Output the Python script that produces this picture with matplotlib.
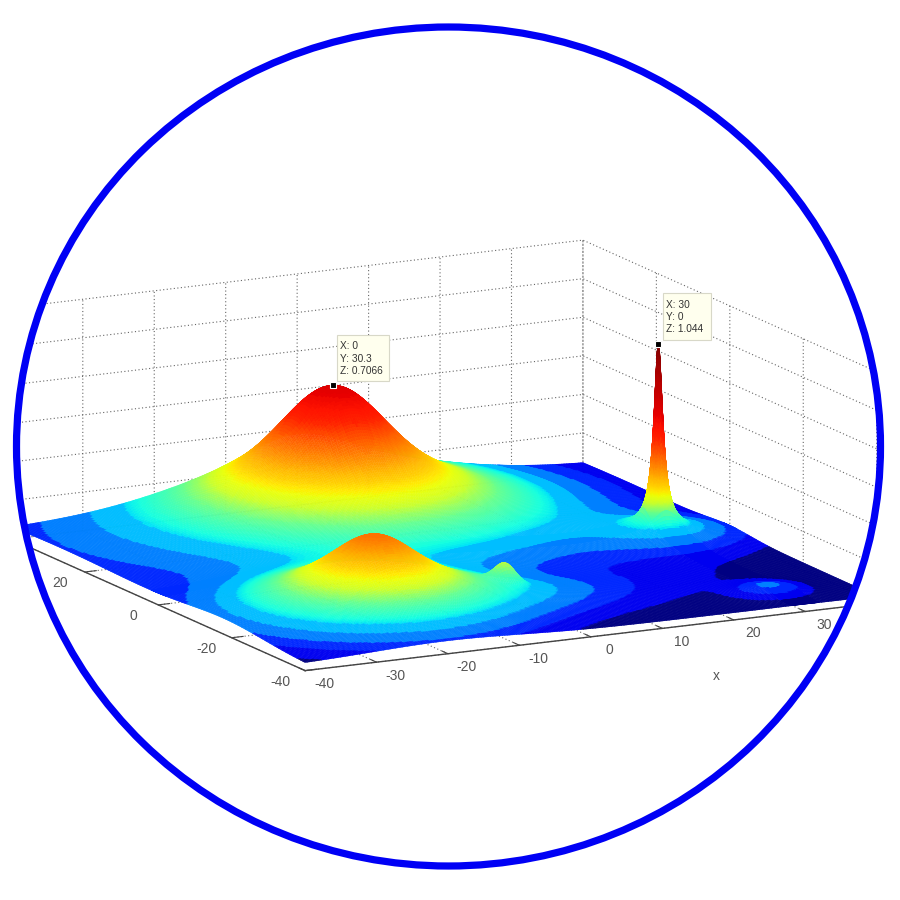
import numpy as np
import matplotlib
matplotlib.use('Agg')
import matplotlib.pyplot as plt
from matplotlib.colors import ListedColormap, to_rgba
from matplotlib.patches import PathPatch, Ellipse, Rectangle
from matplotlib.path import Path
from mpl_toolkits.mplot3d import proj3d

plt.rcParams['font.family'] = ['Liberation Sans', 'DejaVu Sans']

# ticks
x_ticks = [-40, -30, -20, -10, 0, 10, 20, 30, 40]
x_labels = [-40, -30, -20, -10, 0, 10, 20, 30]
y_ticks = [-40, -20, 0, 20, 40]
y_labels = [-40, -20, 0, 20]
z_ticks = [0, 0.2, 0.4, 0.6, 0.8, 1.0, 1.2]

# bumps (x, y, height, width in x, width in y)
base_z = 0.036
bump_x = [0, 0, -20, -20, -2, -2, 29, 30, -40, 15]
bump_y = [30.3, 28, -20, -18.5, -23, -20.5, -32, 0, 25, -20]
bump_h = [0.37, 0.30, 0.15, 0.25, 0.035, 0.095, 0.036, 0.05, 0.02, 0.008]
bump_sx = [6, 16, 4.5, 10.5, 10, 1.3, 3, 7, 12, 13]
bump_sy = [6, 17, 4.5, 10.5, 6, 1.3, 3, 6, 25, 10]

# the thin spike has a sharper profile
spike_x = 30
spike_y = 0
spike_h = 0.958
spike_w = 0.7

# data tips
tip_x = [0, 30]
tip_y = [30.3, 0]
tip_z = [0.7066, 1.044]
tip_text = ['X: 0\nY: 30.3\nZ: 0.7066', 'X: 30\nY: 0\nZ: 1.044']

# colour bands of the low part
band_z = [0.044, 0.056, 0.0705, 0.092, 0.117]
band_colors = ['#000082', '#0000f0', '#0028ff', '#0080ff', '#00beff']
# height -> place on jet, for the fine bands above them
color_z = [0.117, 0.13, 0.18, 0.23, 0.30, 0.45, 0.55, 0.7066, 1.044]
color_t = [0.35, 0.38, 0.47, 0.60, 0.68, 0.80, 0.875, 0.92, 1.0]
z_hi = 1.044

# denser mesh around the spike
xs = np.unique(np.concatenate([np.linspace(-40, 40, 241), np.linspace(28, 32, 81)]))
ys = np.unique(np.concatenate([np.linspace(-40, 40, 241), np.linspace(-2, 2, 81)]))
X, Y = np.meshgrid(xs, ys)
Z = np.full(X.shape, base_z)
for px, py, h, sx, sy in zip(bump_x, bump_y, bump_h, bump_sx, bump_sy):
    Z += h * np.exp(-(X - px)**2 / (2 * sx**2) - (Y - py)**2 / (2 * sy**2))
Z += spike_h / (1 + ((X - spike_x)**2 + (Y - spike_y)**2) / spike_w**2)

# levels and colours
fine_z = np.geomspace(band_z[-1], z_hi * 1.01, 90)
levels = np.concatenate([band_z[:-1], fine_z])
jet = plt.get_cmap('jet')
colors = [to_rgba(c) for c in band_colors] + [jet(t) for t in np.interp(fine_z[:-1], color_z, color_t)]
cmap = ListedColormap(colors)
face = cmap(np.clip(np.digitize(Z, levels), 0, len(colors) - 1))

fig = plt.figure(figsize=(9, 9), dpi=100)
ax = fig.add_axes([-24.3 / 900, -23.7 / 900, 912 / 900, 912 / 900], projection='3d')
ax.computed_zorder = False
ax.set_proj_type('ortho')
ax.view_init(elev=13.3, azim=-117.2)
ax.set_box_aspect((1, 1, 0.37))
ax.set_xlim(-40, 40, view_margin=0)
ax.set_ylim(-40, 40, view_margin=0)
ax.set_zlim(0, 1.2, view_margin=0)

ax.plot_surface(X, Y, Z, facecolors=face, rstride=1, cstride=1, linewidth=0.3,
                antialiased=True, shade=False, zorder=2)

# axes look
ax.set_xticks(x_ticks)
ax.set_yticks(y_ticks)
ax.set_zticks(z_ticks)
ax.set_xticklabels([])
ax.set_yticklabels([])
ax.set_zticklabels([])
for axis in (ax.xaxis, ax.yaxis, ax.zaxis):
    axis.set_pane_color((1, 1, 1, 1))
    axis.pane.set_edgecolor('none')
    axis._axinfo['grid'].update(color='#666666', linestyle=(0, (1, 2.2)), linewidth=0.8)
    axis._axinfo['tick'].update(inward_factor=0, outward_factor=0.25)
    axis.line.set_color('#444444')
    axis.line.set_linewidth(1.0)
ax.tick_params(axis='x', color='#444444', width=0.8)
ax.tick_params(axis='y', color='#444444', width=0.8)
ax.tick_params(axis='z', color='none')
ax.zaxis.line.set_color('none')

# data tip markers
ax.plot(tip_x, tip_y, tip_z, ls='none', marker='s', ms=5, mfc='black', mec='white', mew=0.8, zorder=6)

# overlay in pixel coordinates: tips, white outside the circle, blue ring
over = fig.add_axes([0, 0, 1, 1], facecolor='none', zorder=10)
over.set_xlim(0, 900)
over.set_ylim(900, 0)
over.axis('off')


def floor_label(x, y, txt):
    # put a label under a floor point of the 3d axes
    x2, y2, _ = proj3d.proj_transform(x, y, 0, ax.get_proj())
    px, py = ax.transData.transform((x2, y2))
    over.text(px, 900 - py, txt, fontsize=10, color='#555555', ha='center', va='center')


for t in x_labels:
    floor_label(t - 1.2, -47.5, str(t))
for t in y_labels:
    floor_label(-45.5, t - 3.9, str(t))
over.text(716, 676, 'x', fontsize=10, color='#555555', ha='center', va='center')

for (x0, y0, w, h), txt in zip([(337, 335, 52, 46), (663, 293, 48, 47)], tip_text):
    over.add_patch(Rectangle((x0, y0), w, h, fc='#ffffee', ec='#d8d8c8', lw=0.8))
    over.text(x0 + 3, y0 + h / 2 + 0.5, txt, fontsize=7.3, color='#333333', va='center', ha='left', linespacing=1.3)

cx, cy, rx, ry = 448.5, 446.5, 432, 419.5
th = np.linspace(0, 2 * np.pi, 721)
ring = np.column_stack([cx + rx * np.cos(th), cy + ry * np.sin(th)])
rect = [(-5, -5), (-5, 905), (905, 905), (905, -5), (-5, -5)]
verts = rect + [tuple(p) for p in ring]
codes = [Path.MOVETO] + [Path.LINETO] * 3 + [Path.CLOSEPOLY] + [Path.MOVETO] + [Path.LINETO] * (len(ring) - 2) + [Path.CLOSEPOLY]
over.add_patch(PathPatch(Path(verts, codes), fc='white', ec='none', zorder=20))
over.add_patch(Ellipse((cx, cy), 2 * rx, 2 * ry, fc='none', ec='#0000f5', lw=5.2, zorder=21))

fig.savefig('out.png', dpi=100)
